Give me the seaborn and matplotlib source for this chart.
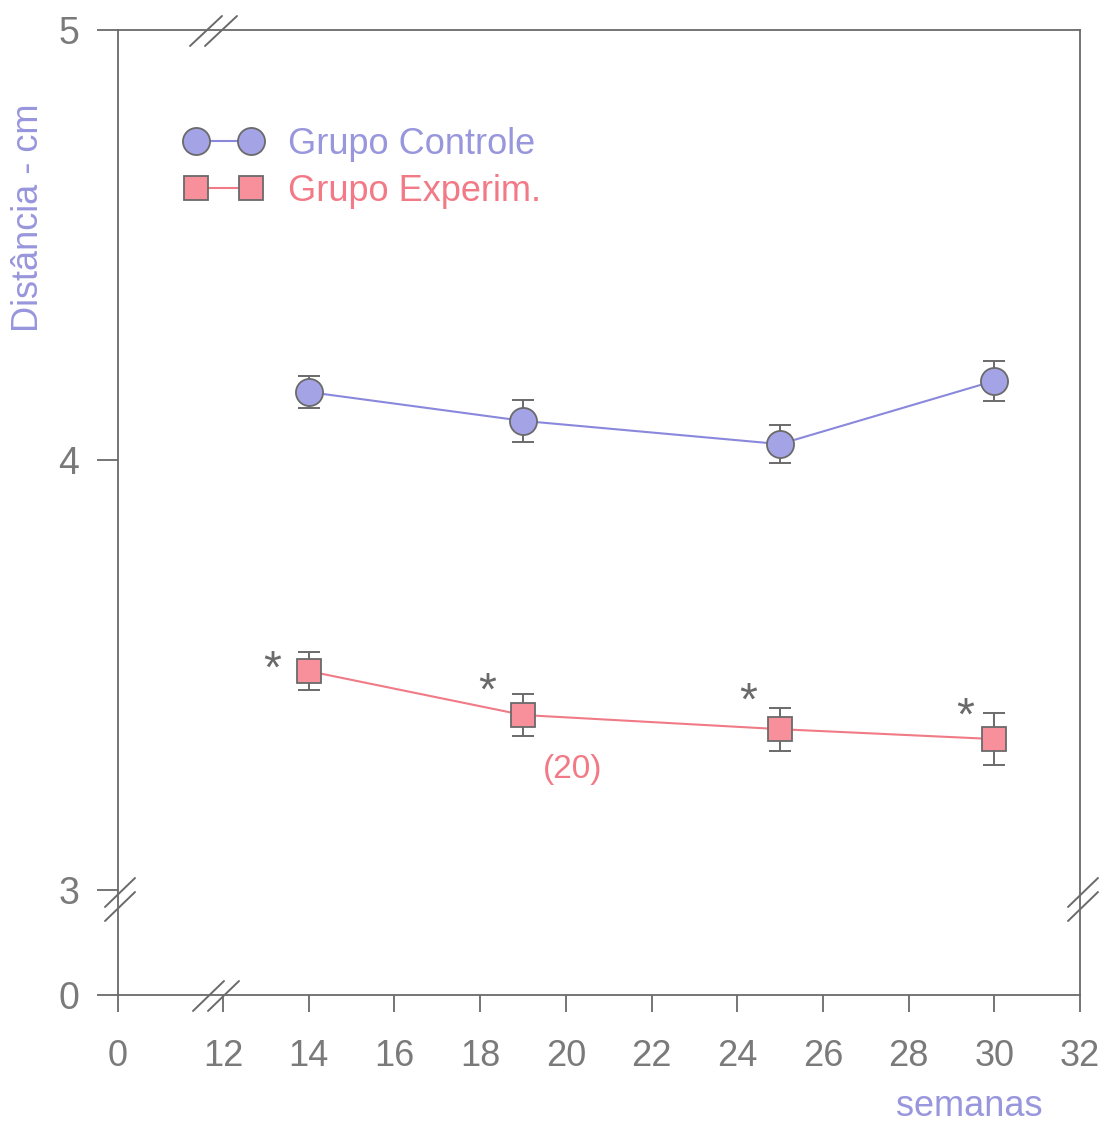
import numpy as np
import pandas as pd
import matplotlib
matplotlib.use("Agg")
import matplotlib.pyplot as plt
import seaborn as sns
from matplotlib.lines import Line2D

# ---- data ----
semanas = [14, 19, 25, 30]
controle = [4.158, 4.091, 4.037, 4.184]
controle_err = [0.037, 0.049, 0.044, 0.047]
experim = [3.509, 3.407, 3.374, 3.351]
experim_err = [0.044, 0.048, 0.050, 0.060]
x_ticks = [0, 12, 14, 16, 18, 20, 22, 24, 26, 28, 30, 32]
y_ticks = [0, 3, 4, 5]
labels = ["Grupo Controle", "Grupo Experim."]
ast_x = [13.14, 18.16, 24.26, 29.33]
ast_y = [3.510, 3.458, 3.435, 3.400]
n_label = "(20)"
n_pos = (20.15, 3.280)

# ---- style ----
sns.set_theme(style="ticks")
plt.rcParams["font.family"] = ["Liberation Sans", "DejaVu Sans"]

GRAY = "#6a6a6a"
TXT = "#7a7a7a"
PURPLE_LINE = "#8a88dc"
PURPLE_FILL = "#a3a3e6"
PURPLE_TXT = "#9896dc"
PINK_LINE = "#f07a86"
PINK_FILL = "#f7909a"
PINK_TXT = "#f27a86"

W, H = 1107, 1125
fig = plt.figure(figsize=(W / 100, H / 100), dpi=100)
ax = fig.add_axes([118 / W, 1 - 995 / H, (1080 - 118) / W, (995 - 30) / H])

df_c = pd.DataFrame({"semanas": semanas, "dist": controle})
df_e = pd.DataFrame({"semanas": semanas, "dist": experim})

ax.errorbar(semanas, controle, yerr=controle_err, fmt="none", ecolor=GRAY,
            elinewidth=1.4, capsize=8, capthick=1.4, zorder=2)
ax.errorbar(semanas, experim, yerr=experim_err, fmt="none", ecolor=GRAY,
            elinewidth=1.4, capsize=8, capthick=1.4, zorder=2)

sns.lineplot(data=df_c, x="semanas", y="dist", ax=ax, color=PURPLE_LINE,
             linewidth=1.5, marker="o", markersize=19.5, markerfacecolor=PURPLE_FILL,
             markeredgecolor=GRAY, markeredgewidth=1.3, zorder=3, label=labels[0])
sns.lineplot(data=df_e, x="semanas", y="dist", ax=ax, color=PINK_LINE,
             linewidth=1.5, marker="s", markersize=17, markerfacecolor=PINK_FILL,
             markeredgecolor=GRAY, markeredgewidth=1.3, zorder=3, label=labels[1])

# broken-axis scales
gx = 105 / 42.8
gy = 105 / 430.0


def fx(x):
    x = np.asarray(x, dtype=float)
    return np.where(x >= 12, x, 12 - (12 - x) * gx / 12)


def ix(m):
    m = np.asarray(m, dtype=float)
    return np.where(m >= 12, m, 12 - (12 - m) * 12 / gx)


def fy(y):
    y = np.asarray(y, dtype=float)
    return np.where(y >= 3, y, 3 - (3 - y) * gy / 3)


def iy(m):
    m = np.asarray(m, dtype=float)
    return np.where(m >= 3, m, 3 - (3 - m) * 3 / gy)


ax.set_xscale("function", functions=(fx, ix))
ax.set_yscale("function", functions=(fy, iy))
ax.set_xlim(0, 32)
ax.set_ylim(0, 5)
ax.set_xticks(x_ticks)
ax.set_xticklabels([str(t) for t in x_ticks])
ax.set_yticks(y_ticks)
ax.set_yticklabels([str(t) for t in y_ticks])
ax.minorticks_off()
ax.set_xlabel("")
ax.set_ylabel("")

for s in ax.spines.values():
    s.set_visible(True)
    s.set_color(GRAY)
    s.set_linewidth(1.3)
ax.tick_params(axis="y", direction="out", length=15, width=1.3, color=GRAY,
               labelsize=27, labelcolor=TXT, pad=13)
ax.tick_params(axis="x", direction="out", length=12, width=1.3, color=GRAY,
               labelsize=26, labelcolor=TXT, pad=19.5)
ax.grid(False)

# asterisks and n label
for xa, ya in zip(ast_x, ast_y):
    ax.text(xa, ya, "*", fontsize=33, color=GRAY, ha="center", va="center")
ax.text(n_pos[0], n_pos[1], n_label, fontsize=24, color=PINK_TXT,
        ha="center", va="center")

# legend
fs_leg = 26
em = fs_leg * 100 / 72.0
handles = [ax.lines[-2], ax.lines[-1]]
leg = ax.legend(handles, labels, loc="upper left",
                bbox_to_anchor=((196 - 0.3 * em - 118) / 962, (995 - 127) / 965),
                frameon=False, numpoints=2, handlelength=(55 + 0.6 * em) / em,
                handletextpad=(288 - 251 - 0.3 * em) / em,
                borderpad=0, borderaxespad=0, labelspacing=0.33, fontsize=fs_leg)
for t, c in zip(leg.get_texts(), [PURPLE_TXT, PINK_TXT]):
    t.set_color(c)

# axis titles
fig.text(29 / W, 1 - 218 / H, "Distância - cm", rotation=90, fontsize=26,
         color=PURPLE_TXT, ha="center", va="center")
fig.text(969 / W, 1 - 1116 / H, "semanas", fontsize=26, color=PURPLE_TXT,
         ha="center", va="baseline")

# break marks (pixel coordinates)
def brk(x0, y0, x1, y1):
    fig.add_artist(Line2D([x0 / W, x1 / W], [1 - y0 / H, 1 - y1 / H],
                          transform=fig.transFigure, color=GRAY, linewidth=1.4))

for dx in (0, 15):
    brk(190 + dx, 46, 222 + dx, 16)      # top
    brk(193 + dx, 1011, 224 + dx, 981)   # bottom
for dy in (0, 14):
    brk(105, 907 + dy, 135, 878 + dy)    # left
    brk(1068, 907 + dy, 1098, 878 + dy)  # right

fig.savefig("out.png", dpi=100)
